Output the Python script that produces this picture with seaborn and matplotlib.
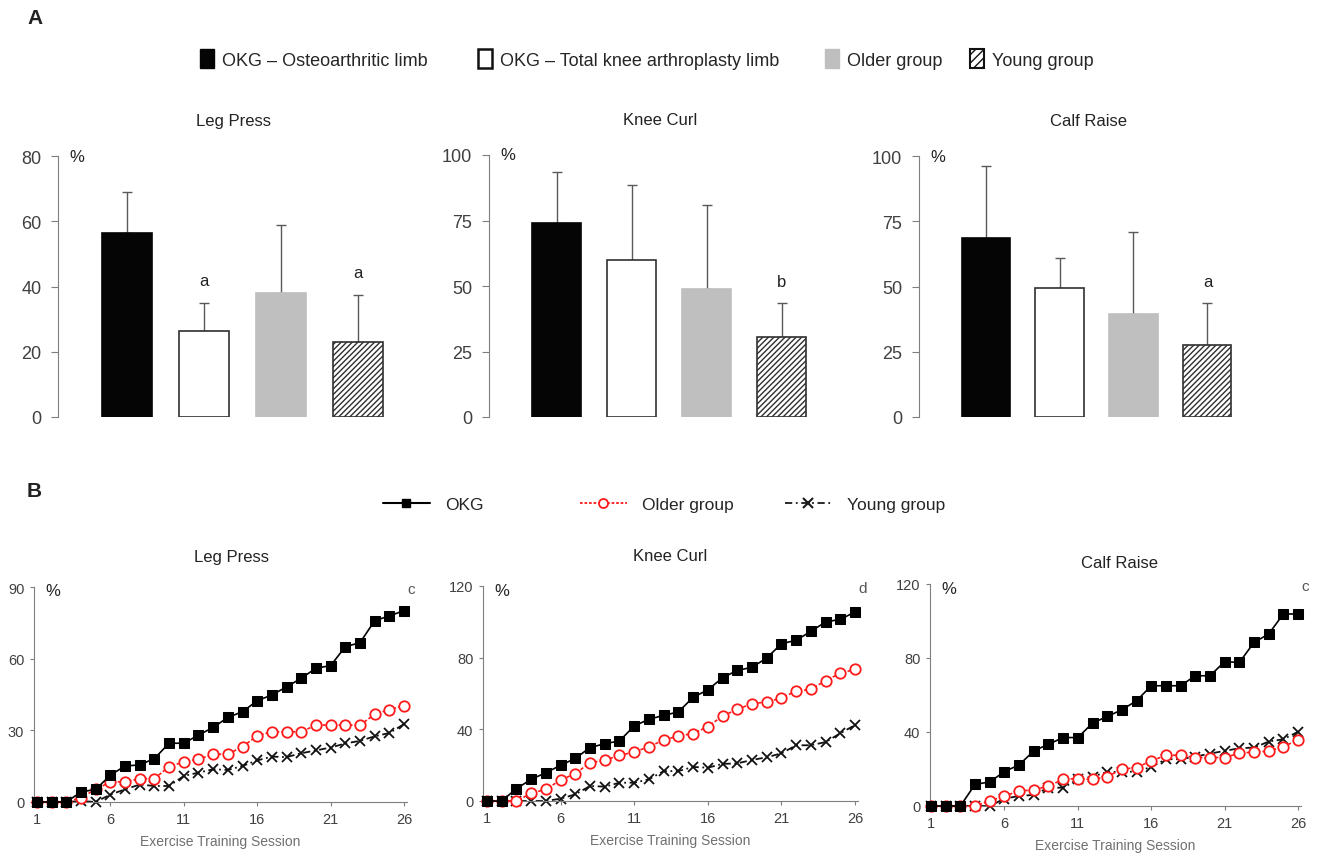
import numpy as np
import pandas as pd
import matplotlib
matplotlib.use('Agg')
import matplotlib.pyplot as plt
import seaborn as sns
from matplotlib.patches import Patch
from matplotlib.lines import Line2D

sns.set_style('white')
plt.rcParams['font.family'] = ['Liberation Sans', 'DejaVu Sans']
plt.rcParams['hatch.linewidth'] = 1.0

# ---- data ----
groups = ['OKG – Osteoarthritic limb', 'OKG – Total knee arthroplasty limb', 'Older group', 'Young group']
exercises = ['Leg Press', 'Knee Curl', 'Calf Raise']

# panel A: mean and upper error (mean + SD)
bar_mean = {
    'Leg Press': [56.5, 26.5, 38, 23],
    'Knee Curl': [74, 60, 49, 30.5],
    'Calf Raise': [68.5, 49.5, 39.5, 27.5],
}
bar_top = {
    'Leg Press': [69, 35, 59, 37.5],
    'Knee Curl': [93.5, 88.5, 81, 43.5],
    'Calf Raise': [96, 61, 71, 43.5],
}
bar_letters = {
    'Leg Press': ['', 'a', '', 'a'],
    'Knee Curl': ['', '', '', 'b'],
    'Calf Raise': ['', '', '', 'a'],
}
bar_ymax = {'Leg Press': 80, 'Knee Curl': 100, 'Calf Raise': 100}
bar_yticks = {'Leg Press': [0, 20, 40, 60, 80], 'Knee Curl': [0, 25, 50, 75, 100],
              'Calf Raise': [0, 25, 50, 75, 100]}

# panel B: progression per session
sessions = list(range(1, 27))
okg_leg = [0, 0, 0, 4.2, 5.3, 11.2, 15.1, 15.5, 18.2, 24.6, 24.6, 28, 31.2, 35.4, 37.8, 42.4,
           44.8, 48.2, 51.8, 56, 57.1, 65, 66.7, 75.9, 77.9, 80.1]
older_leg = [0, 0, 0, 1.8, 5.3, 8.4, 8.4, 9.8, 9.8, 14.8, 16.8, 17.9, 20, 20, 23.2, 27.7,
             29.4, 29.4, 29.4, 32.2, 32.2, 32.2, 32.2, 36.7, 38.7, 40.3]
young_leg = [0, 0, 0, 0.4, 0, 3.1, 5.3, 7.3, 6.7, 6.7, 10.9, 12.3, 13.7, 13.4, 15.1, 17.4,
             19, 18.8, 20.4, 21.6, 22.8, 24.5, 25.6, 27.5, 28.9, 32.6]

okg_knee = [0, 0, 6.9, 12.1, 15.8, 19.9, 23.8, 29.8, 32, 33.5, 41.9, 45.6, 47.8, 49.7, 57.9, 62,
            68.8, 72.9, 74.6, 79.8, 87.8, 89.7, 94.7, 99.9, 101.4, 105.5]
older_knee = [0, 0, 0, 4.3, 6.5, 11.7, 15.3, 21.4, 22.7, 25.5, 27.3, 30.3, 34, 36.3, 37.6, 41.5,
              47.4, 51.2, 54.3, 55.3, 57.5, 61.4, 62.3, 67.2, 71.3, 73.5]
young_knee = [0, 0, 0, 0, 0, 1.3, 3.7, 8.4, 8, 10.2, 10.2, 12.1, 16.7, 16.7, 19, 18.6,
              20.7, 21, 22.9, 24.4, 26.6, 31.1, 31.1, 32.9, 37.8, 42.4]

okg_calf = [0, 0, 0, 11.7, 13, 18.6, 22.2, 29.8, 33.4, 37, 37, 44.8, 48.4, 52, 56.9, 65,
            65, 65, 70.4, 70.4, 78, 77.6, 88.4, 93, 103.8, 103.8]
older_calf = [0, 0, 0, 0, 2.7, 5.4, 8.1, 8.7, 10.8, 14.4, 14.8, 14.4, 15.9, 19.9, 20.8, 24.4,
              27.4, 27.4, 26.2, 26.2, 26.2, 28.5, 29.2, 29.6, 32.1, 35.7]
young_calf = [0, 0, 0, 0, 0, 4, 5.4, 6, 9.9, 9.9, 14.4, 15.9, 18.4, 18.4, 18.6, 21.1,
              25.3, 25.3, 26.7, 28.3, 29.8, 31.2, 31.6, 34.8, 36.1, 40.1]

line_data = {
    'Leg Press': (okg_leg, older_leg, young_leg),
    'Knee Curl': (okg_knee, older_knee, young_knee),
    'Calf Raise': (okg_calf, older_calf, young_calf),
}
line_ymax = {'Leg Press': 90, 'Knee Curl': 120, 'Calf Raise': 120}
line_yticks = {'Leg Press': [0, 30, 60, 90], 'Knee Curl': [0, 40, 80, 120],
               'Calf Raise': [0, 40, 80, 120]}
line_letters = {'Leg Press': 'c', 'Knee Curl': 'd', 'Calf Raise': 'c'}

# ---- figure ----
W, H = 1319, 854
fig = plt.figure(figsize=(W / 100, H / 100), dpi=100)


def add_ax(left, top, w, h):
    return fig.add_axes([left / W, 1 - (top + h) / H, w / W, h / H])


spine_c = '#7f7f7f'
tick_c = '#404040'
bar_colors = ['#050505', '#ffffff', '#bfbfbf', '#ffffff']
bar_edges = ['#050505', '#303030', '#bfbfbf', '#303030']

top_rects = {'Leg Press': (58, 157, 352, 261), 'Knee Curl': (489, 156, 343, 262),
             'Calf Raise': (919, 157, 338, 261)}

for ex in exercises:
    ax = add_ax(*top_rects[ex])
    df = pd.DataFrame({'group': groups, 'value': bar_mean[ex]})
    sns.barplot(data=df, x='group', y='value', hue='group', palette=bar_colors,
                legend=False, width=0.65, ax=ax, saturation=1)
    for i, p in enumerate(ax.patches):
        p.set_edgecolor(bar_edges[i])
        p.set_linewidth(1.2)
        if i == 3:
            p.set_hatch('//////')
    means = np.array(bar_mean[ex])
    tops = np.array(bar_top[ex])
    ax.errorbar(range(4), means, yerr=[np.zeros(4), tops - means], fmt='none',
                ecolor='#595959', elinewidth=1, capsize=3.5, capthick=1, zorder=0)
    for i, lab in enumerate(bar_letters[ex]):
        if lab:
            ax.annotate(lab, (i, tops[i]), xytext=(0, 22), textcoords='offset pixels',
                        ha='center', va='center', fontsize=12, color='#222222')
    ax.set_xlim(-0.9, 3.67)
    ax.set_ylim(0, bar_ymax[ex])
    ax.set_yticks(bar_yticks[ex])
    ax.set_xticks([])
    ax.set_xlabel('')
    ax.set_ylabel('')
    for s in ['top', 'right', 'bottom']:
        ax.spines[s].set_visible(False)
    ax.spines['left'].set_color(spine_c)
    ax.tick_params(axis='y', left=True, length=5, color=spine_c, labelsize=13,
                   labelcolor=tick_c, pad=7)
    ax.set_title(ex, fontsize=12, color='#222222', pad=22)
    ax.annotate('%', (0, 1), xycoords='axes fraction', xytext=(19, 0),
                textcoords='offset pixels', ha='center', va='center', fontsize=12,
                color='#222222')

bot_rects = {'Leg Press': (34, 588, 373, 215), 'Knee Curl': (483, 587, 375, 215),
             'Calf Raise': (930, 585, 371, 222)}
bot_xlim = {'Leg Press': (0.8, 26.2), 'Knee Curl': (0.73, 26.2), 'Calf Raise': (0.93, 26.2)}
title_pads = {'Leg Press': 19, 'Knee Curl': 19, 'Calf Raise': 12}
title_x = {'Leg Press': 0.53, 'Knee Curl': 0.5, 'Calf Raise': 0.51}

for ex in exercises:
    ax = add_ax(*bot_rects[ex])
    okg, older, young = line_data[ex]
    sns.lineplot(x=sessions, y=okg, ax=ax, color='black', linewidth=1.2, marker='s',
                 markersize=7, markerfacecolor='black', markeredgecolor='black', zorder=4,
                 clip_on=False)
    sns.lineplot(x=sessions, y=older, ax=ax, color='#ff1a1a', linewidth=1.2,
                 linestyle=(0, (2, 1.2)), marker='o', markersize=7.5,
                 markerfacecolor='white', markeredgecolor='#ff1a1a', markeredgewidth=1.3,
                 zorder=3, clip_on=False)
    sns.lineplot(x=sessions, y=young, ax=ax, color='#111111', linewidth=1.3,
                 linestyle=(0, (4, 2, 1, 2)), marker='x', markersize=7,
                 markeredgecolor='#111111', markeredgewidth=1.3, zorder=2, clip_on=False)
    ax.set_xlim(*bot_xlim[ex])
    ax.set_ylim(0, line_ymax[ex])
    ax.set_yticks(line_yticks[ex])
    ax.set_xticks([1, 6, 11, 16, 21, 26])
    for s in ['top', 'right']:
        ax.spines[s].set_visible(False)
    for s in ['left', 'bottom']:
        ax.spines[s].set_color(spine_c)
    ax.tick_params(axis='both', bottom=True, left=True, length=3, color=spine_c,
                   labelsize=10.5, labelcolor=tick_c, pad=4)
    ax.set_xlabel('Exercise Training Session', fontsize=10, color='#707070', labelpad=6)
    ax.set_ylabel('')
    ax.set_title(ex, fontsize=12, color='#222222', pad=title_pads[ex], x=title_x[ex])
    ax.annotate('%', (0, 1), xycoords='axes fraction', xytext=(19, -4),
                textcoords='offset pixels', ha='center', va='center', fontsize=12,
                color='#222222')
    ax.text(1.0, 0.99, line_letters[ex], transform=ax.transAxes, ha='left', va='center',
            fontsize=11, color='#555555')

# ---- legends ----
patch_handles = [
    Patch(facecolor='#050505', edgecolor='#050505'),
    Patch(facecolor='white', edgecolor='#111111', linewidth=1.8),
    Patch(facecolor='#bfbfbf', edgecolor='#bfbfbf'),
    Patch(facecolor='white', edgecolor='#111111', hatch='////', linewidth=1.5),
]
leg_a_x = [200, 478, 825, 970]
for h, lab, x in zip(patch_handles, groups, leg_a_x):
    fig.legend(handles=[h], labels=[lab], loc='center left', bbox_to_anchor=(x / W, 1 - 60 / H),
               frameon=False, fontsize=13, handlelength=0.75, handleheight=1.2,
               handletextpad=0.45, borderpad=0, borderaxespad=0)

line_handles = [
    Line2D([], [], color='black', marker='s', markersize=6, linewidth=1.5),
    Line2D([], [], color='#ff1a1a', marker='o', markersize=6.5, markerfacecolor='white',
           markeredgewidth=1.3, linestyle=(0, (1.5, 1)), linewidth=1.3),
    Line2D([], [], color='#1a1a1a', marker='x', markersize=6.5, markeredgewidth=1.5,
           linestyle=(0, (4, 2, 1, 2)), linewidth=1.3),
]
line_labels = ['OKG', 'Older group', 'Young group']
leg_b_x = [383, 580, 785]
for h, lab, x in zip(line_handles, line_labels, leg_b_x):
    fig.legend(handles=[h], labels=[lab], loc='center left', bbox_to_anchor=(x / W, 1 - 505 / H),
               frameon=False, fontsize=12.5, handlelength=2.7, handletextpad=0.85,
               borderpad=0, borderaxespad=0)

fig.text(27 / W, 1 - 18 / H, 'A', fontsize=15, fontweight='bold', va='center', color='#222222')
fig.text(27 / W, 1 - 492 / H, 'B', fontsize=15, fontweight='bold', va='center', color='#222222')

fig.savefig('out.png', dpi=100)
